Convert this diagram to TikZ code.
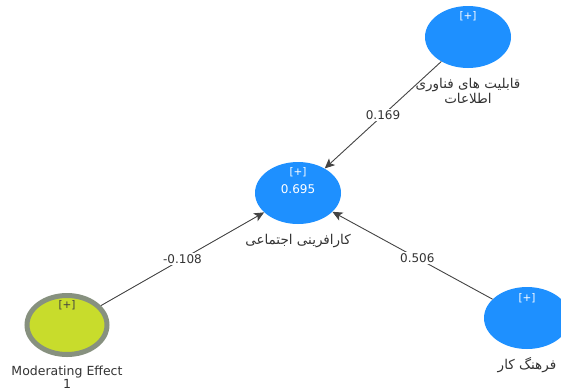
\documentclass[tikz,border=0pt]{standalone}
\usepackage{fontspec}
\setmainfont{DejaVu Sans}
\newfontfamily\arabicfont[Script=Arabic]{DejaVu Sans}
\TeXXeTstate=1
\usetikzlibrary{arrows.meta,shapes.geometric}
\definecolor{nodeblue}{HTML}{1E90FF}
\definecolor{modfill}{HTML}{C8DC2C}
\definecolor{modring}{HTML}{87917F}
\definecolor{txt}{HTML}{333333}
\definecolor{edgecol}{HTML}{444444}
\begin{document}
\begin{tikzpicture}[x=1pt,y=-1pt,
  latent/.style={ellipse, fill=nodeblue, minimum width=86pt, minimum height=62pt, inner sep=0pt},
  moder/.style={ellipse, fill=modfill, draw=modring, line width=5pt, minimum width=80pt, minimum height=59pt, inner sep=0pt},
  plus/.style={font=\fontsize{10.5}{12}\selectfont, text=white, inner sep=0pt},
  pluskdark/.style={font=\fontsize{10.5}{12}\selectfont, text=black!75, inner sep=0pt},
  rsq/.style={font=\fontsize{12}{13}\selectfont, text=white, inner sep=0pt},
  lbl/.style={font=\fontsize{12.5}{13.5}\selectfont, text=txt, align=center, inner sep=0pt},
  albl/.style={font=\fontsize{13.5}{13}\selectfont, text=txt, align=center, inner sep=0pt},
  weight/.style={font=\fontsize{12}{13}\selectfont, text=txt, fill=white, inner sep=1.5pt},
  edge/.style={draw=edgecol, line width=0.9pt, -{Stealth[length=10pt,width=9pt,inset=2.5pt]}}
]
\useasboundingbox (0,0) rectangle (561,391);
% nodes
\node[latent] (tr) at (468,37) {};
\node[latent] (c) at (298,193) {};
\node[moder] (mod) at (67,325) {};
\node[latent] (br) at (527,318) {};
% inner texts
\node[plus] (ptr) at ([yshift=-10pt]tr.north) {[+]};
\node[plus] (pc) at ([yshift=-10pt]c.north) {[+]};
\node[rsq] (rc) at ([yshift=-27pt]c.north) {0.695};
\node[pluskdark] (pmod) at ([yshift=-12pt]mod.north) {[+]};
\node[plus] (pbr) at ([yshift=-11pt]br.north) {[+]};
% labels
\node[albl] (ltr) at (468,91) {\arabicfont\beginR قابلیت های فناوری\endR\\\arabicfont\beginR اطلاعات\endR};
\node[albl] (lc) at (298,241) {\arabicfont\beginR کارافرینی اجتماعی\endR};
\node[albl] (lbr) at (527,365) {\arabicfont\beginR فرهنگ کار\endR};
\node[lbl] (lmod) at (67,377) {Moderating Effect\\1};
% edges
\draw[edge] (tr) -- node[weight, pos=0.5] {0.169} (c);
\draw[edge] (mod) -- node[weight, pos=0.5] {-0.108} (c);
\draw[edge] (br) -- node[weight, pos=0.47] {0.506} (c);
\end{tikzpicture}
\end{document}
